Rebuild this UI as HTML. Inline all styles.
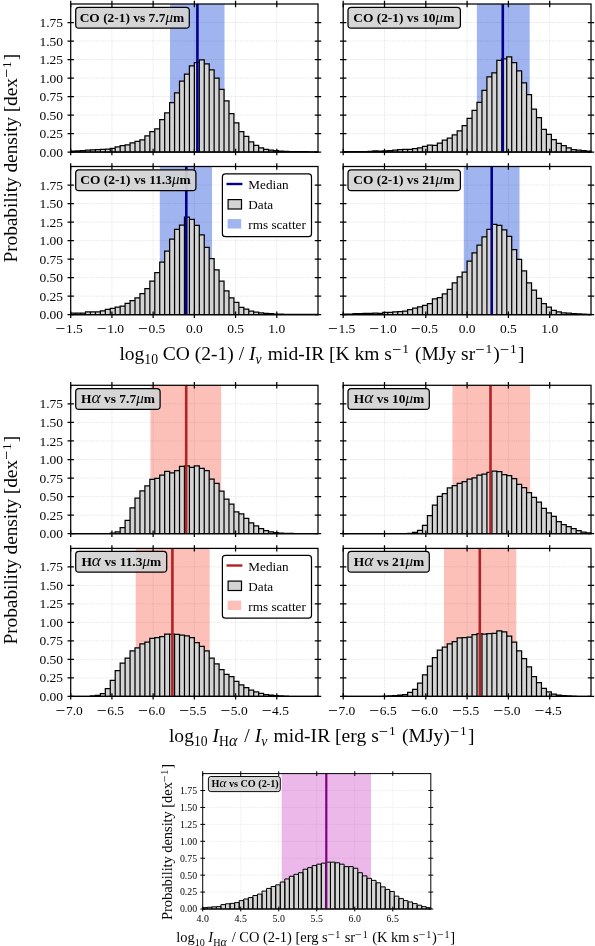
<!DOCTYPE html>
<html><head><meta charset="utf-8"><title>Histograms</title>
<style>
html,body{margin:0;padding:0;background:#fff;}
body{width:595px;height:946px;overflow:hidden;}
svg{display:block;font-family:"Liberation Serif",serif;fill:#000;}
svg text{fill:#000;stroke:none;}
</style></head><body>
<svg width="595" height="946" viewBox="0 0 595 946">
<rect width="595" height="946" fill="#fff"/>
<g><rect x="170" y="4" width="54.5" height="148" fill="rgb(160,180,240)"/><path d="M111.92 4V152M153.13 4V152M194.35 4V152M235.57 4V152M276.78 4V152M70.7 133.5H318M70.7 115H318M70.7 96.5H318M70.7 78H318M70.7 59.5H318M70.7 41H318M70.7 22.5H318" stroke="#000" stroke-opacity="0.2" stroke-width="0.5" stroke-dasharray="1 0.8" fill="none"/><path d="M70.7 152V151.11H75.65V152ZM75.65 152V150.89H80.59V152ZM80.59 152V150.52H85.54V152ZM85.54 152V150H90.48V152ZM90.48 152V149.78H95.43V152ZM95.43 152V149.56H100.38V152ZM100.38 152V149.41H105.32V152ZM105.32 152V149.04H110.27V152ZM110.27 152V148.3H115.21V152ZM115.21 152V146.82H120.16V152ZM120.16 152V145.71H125.11V152ZM125.11 152V144.82H130.05V152ZM130.05 152V142.82H135V152ZM135 152V141.27H139.94V152ZM139.94 152V139.79H144.89V152ZM144.89 152V135.87H149.84V152ZM149.84 152V131.5H154.78V152ZM154.78 152V128.84H159.73V152ZM159.73 152V119.66H164.67V152ZM164.67 152V112.93H169.62V152ZM169.62 152V102.64H174.57V152ZM174.57 152V92.8H179.51V152ZM179.51 152V81.18H184.46V152ZM184.46 152V74H189.4V152ZM189.4 152V65.94H194.35V152ZM194.35 152V62.68H199.3V152ZM199.3 152V59.8H204.24V152ZM204.24 152V63.94H209.19V152ZM209.19 152V69.86H214.13V152ZM214.13 152V78H219.08V152ZM219.08 152V89.32H224.03V152ZM224.03 152V100.94H228.97V152ZM228.97 152V113.52H233.92V152ZM233.92 152V122.77H238.86V152ZM238.86 152V131.5H243.81V152ZM243.81 152V136.46H248.76V152ZM248.76 152V141.94H253.7V152ZM253.7 152V145.34H258.65V152ZM258.65 152V147.86H263.59V152ZM263.59 152V149.41H268.54V152ZM268.54 152V150.22H273.49V152ZM273.49 152V150.67H278.43V152ZM278.43 152V151.11H283.38V152ZM283.38 152V151.33H288.32V152ZM288.32 152V151.56H293.27V152ZM293.27 152V151.63H298.22V152ZM298.22 152V151.7H303.16V152ZM303.16 152V151.7H308.11V152ZM308.11 152V151.78H313.05V152ZM313.05 152V151.78H318V152Z" fill="#d3d3d3" stroke="#000" stroke-width="1.25" stroke-linejoin="miter"/><path d="M197.4 4V152" stroke="#00008b" stroke-width="2.6"/><path d="M70.7 0.8V7.2M70.7 148.8V155.2M111.92 0.8V7.2M111.92 148.8V155.2M153.13 0.8V7.2M153.13 148.8V155.2M194.35 0.8V7.2M194.35 148.8V155.2M235.57 0.8V7.2M235.57 148.8V155.2M276.78 0.8V7.2M276.78 148.8V155.2M67.5 152H73.9M314.8 152H321.2M67.5 133.5H73.9M314.8 133.5H321.2M67.5 115H73.9M314.8 115H321.2M67.5 96.5H73.9M314.8 96.5H321.2M67.5 78H73.9M314.8 78H321.2M67.5 59.5H73.9M314.8 59.5H321.2M67.5 41H73.9M314.8 41H321.2M67.5 22.5H73.9M314.8 22.5H321.2" stroke="#000" stroke-width="1.25" fill="none"/><rect x="70.7" y="4" width="247.3" height="148" fill="none" stroke="#000" stroke-width="1.25"/></g>
<g><rect x="476.9" y="4" width="52.8" height="148" fill="rgb(160,180,240)"/><path d="M384.5 4V152M425.8 4V152M467.1 4V152M508.4 4V152M549.7 4V152M343.2 133.5H591M343.2 115H591M343.2 96.5H591M343.2 78H591M343.2 59.5H591M343.2 41H591M343.2 22.5H591" stroke="#000" stroke-opacity="0.2" stroke-width="0.5" stroke-dasharray="1 0.8" fill="none"/><path d="M343.2 152V151.7H348.16V152ZM348.16 152V151.7H353.11V152ZM353.11 152V151.7H358.07V152ZM358.07 152V151.63H363.02V152ZM363.02 152V151.56H367.98V152ZM367.98 152V151.26H372.94V152ZM372.94 152V150.89H377.89V152ZM377.89 152V151.04H382.85V152ZM382.85 152V150.82H387.8V152ZM387.8 152V150.52H392.76V152ZM392.76 152V150.08H397.72V152ZM397.72 152V149.63H402.67V152ZM402.67 152V149.41H407.63V152ZM407.63 152V149.34H412.58V152ZM412.58 152V148.74H417.54V152ZM417.54 152V147.86H422.5V152ZM422.5 152V146.3H427.45V152ZM427.45 152V145.04H432.41V152ZM432.41 152V145.34H437.36V152ZM437.36 152V143.12H442.32V152ZM442.32 152V140.16H447.28V152ZM447.28 152V138.24H452.23V152ZM452.23 152V134.76H457.19V152ZM457.19 152V130.84H462.14V152ZM462.14 152V125.58H467.1V152ZM467.1 152V118.33H472.06V152ZM472.06 152V110.26H477.01V152ZM477.01 152V102.42H481.97V152ZM481.97 152V90.36H486.92V152ZM486.92 152V76.82H491.88V152ZM491.88 152V72.89H496.84V152ZM496.84 152V60.46H501.79V152ZM501.79 152V58.76H506.75V152ZM506.75 152V56.76H511.7V152ZM511.7 152V62.61H516.66V152ZM516.66 152V70.97H521.62V152ZM521.62 152V82.96H526.57V152ZM526.57 152V94.72H531.53V152ZM531.53 152V109.15H536.48V152ZM536.48 152V117.66H541.44V152ZM541.44 152V129.28H546.4V152ZM546.4 152V134.31H551.35V152ZM551.35 152V139.57H556.31V152ZM556.31 152V143.49H561.26V152ZM561.26 152V145.64H566.22V152ZM566.22 152V147.86H571.18V152ZM571.18 152V149.63H576.13V152ZM576.13 152V150.22H581.09V152ZM581.09 152V150.67H586.04V152ZM586.04 152V151.11H591V152Z" fill="#d3d3d3" stroke="#000" stroke-width="1.25" stroke-linejoin="miter"/><path d="M502.8 4V152" stroke="#00008b" stroke-width="2.6"/><path d="M343.2 0.8V7.2M343.2 148.8V155.2M384.5 0.8V7.2M384.5 148.8V155.2M425.8 0.8V7.2M425.8 148.8V155.2M467.1 0.8V7.2M467.1 148.8V155.2M508.4 0.8V7.2M508.4 148.8V155.2M549.7 0.8V7.2M549.7 148.8V155.2M340 152H346.4M587.8 152H594.2M340 133.5H346.4M587.8 133.5H594.2M340 115H346.4M587.8 115H594.2M340 96.5H346.4M587.8 96.5H594.2M340 78H346.4M587.8 78H594.2M340 59.5H346.4M587.8 59.5H594.2M340 41H346.4M587.8 41H594.2M340 22.5H346.4M587.8 22.5H594.2" stroke="#000" stroke-width="1.25" fill="none"/><rect x="343.2" y="4" width="247.8" height="148" fill="none" stroke="#000" stroke-width="1.25"/></g>
<g><rect x="159.8" y="166.5" width="52.2" height="148.2" fill="rgb(160,180,240)"/><path d="M111.92 166.5V314.7M153.13 166.5V314.7M194.35 166.5V314.7M235.57 166.5V314.7M276.78 166.5V314.7M70.7 296.18H318M70.7 277.65H318M70.7 259.12H318M70.7 240.6H318M70.7 222.07H318M70.7 203.55H318M70.7 185.03H318" stroke="#000" stroke-opacity="0.2" stroke-width="0.5" stroke-dasharray="1 0.8" fill="none"/><path d="M70.7 314.7V313H75.65V314.7ZM75.65 314.7V313H80.59V314.7ZM80.59 314.7V313H85.54V314.7ZM85.54 314.7V311.96H90.48V314.7ZM90.48 314.7V311.96H95.43V314.7ZM95.43 314.7V311.96H100.38V314.7ZM100.38 314.7V310.85H105.32V314.7ZM105.32 314.7V309.29H110.27V314.7ZM110.27 314.7V308.4H115.21V314.7ZM115.21 314.7V307.14H120.16V314.7ZM120.16 314.7V306.03H125.11V314.7ZM125.11 314.7V303.36H130.05V314.7ZM130.05 314.7V300.55H135V314.7ZM135 314.7V297.95H139.94V314.7ZM139.94 314.7V293.58H144.89V314.7ZM144.89 314.7V288.54H149.84V314.7ZM149.84 314.7V281.06H154.78V314.7ZM154.78 314.7V272.54H159.73V314.7ZM159.73 314.7V262.24H164.67V314.7ZM164.67 314.7V251.12H169.62V314.7ZM169.62 314.7V239.12H174.57V314.7ZM174.57 314.7V229.34H179.51V314.7ZM179.51 314.7V225.19H184.46V314.7ZM184.46 314.7V217.04H189.4V314.7ZM189.4 314.7V219.41H194.35V314.7ZM194.35 314.7V225.34H199.3V314.7ZM199.3 314.7V234.75H204.24V314.7ZM204.24 314.7V247.27H209.19V314.7ZM209.19 314.7V258.61H214.13V314.7ZM214.13 314.7V269.8H219.08V314.7ZM219.08 314.7V281.13H224.03V314.7ZM224.03 314.7V290.99H228.97V314.7ZM228.97 314.7V297.95H233.92V314.7ZM233.92 314.7V302.33H238.86V314.7ZM238.86 314.7V307.36H243.81V314.7ZM243.81 314.7V309.14H248.76V314.7ZM248.76 314.7V311.14H253.7V314.7ZM253.7 314.7V312.18H258.65V314.7ZM258.65 314.7V312.85H263.59V314.7ZM263.59 314.7V313.29H268.54V314.7ZM268.54 314.7V313.74H273.49V314.7ZM273.49 314.7V314.03H278.43V314.7ZM278.43 314.7V314.18H283.38V314.7ZM283.38 314.7V314.26H288.32V314.7ZM288.32 314.7V314.33H293.27V314.7ZM293.27 314.7V314.4H298.22V314.7ZM298.22 314.7V314.4H303.16V314.7ZM303.16 314.7V314.48H308.11V314.7ZM308.11 314.7V314.48H313.05V314.7ZM313.05 314.7V314.48H318V314.7Z" fill="#d3d3d3" stroke="#000" stroke-width="1.25" stroke-linejoin="miter"/><path d="M186.3 166.5V314.7" stroke="#00008b" stroke-width="2.6"/><path d="M70.7 163.3V169.7M70.7 311.5V317.9M111.92 163.3V169.7M111.92 311.5V317.9M153.13 163.3V169.7M153.13 311.5V317.9M194.35 163.3V169.7M194.35 311.5V317.9M235.57 163.3V169.7M235.57 311.5V317.9M276.78 163.3V169.7M276.78 311.5V317.9M67.5 314.7H73.9M314.8 314.7H321.2M67.5 296.18H73.9M314.8 296.18H321.2M67.5 277.65H73.9M314.8 277.65H321.2M67.5 259.12H73.9M314.8 259.12H321.2M67.5 240.6H73.9M314.8 240.6H321.2M67.5 222.07H73.9M314.8 222.07H321.2M67.5 203.55H73.9M314.8 203.55H321.2M67.5 185.03H73.9M314.8 185.03H321.2" stroke="#000" stroke-width="1.25" fill="none"/><rect x="70.7" y="166.5" width="247.3" height="148.2" fill="none" stroke="#000" stroke-width="1.25"/></g>
<g><rect x="463.8" y="166.5" width="55.7" height="148.2" fill="rgb(160,180,240)"/><path d="M384.5 166.5V314.7M425.8 166.5V314.7M467.1 166.5V314.7M508.4 166.5V314.7M549.7 166.5V314.7M343.2 296.18H591M343.2 277.65H591M343.2 259.12H591M343.2 240.6H591M343.2 222.07H591M343.2 203.55H591M343.2 185.03H591" stroke="#000" stroke-opacity="0.2" stroke-width="0.5" stroke-dasharray="1 0.8" fill="none"/><path d="M343.2 314.7V314.11H348.16V314.7ZM348.16 314.7V314.11H353.11V314.7ZM353.11 314.7V313.66H358.07V314.7ZM358.07 314.7V313.66H363.02V314.7ZM363.02 314.7V313.44H367.98V314.7ZM367.98 314.7V313.44H372.94V314.7ZM372.94 314.7V313H377.89V314.7ZM377.89 314.7V313.44H382.85V314.7ZM382.85 314.7V312.33H387.8V314.7ZM387.8 314.7V312.33H392.76V314.7ZM392.76 314.7V311.96H397.72V314.7ZM397.72 314.7V311.51H402.67V314.7ZM402.67 314.7V311.07H407.63V314.7ZM407.63 314.7V309.74H412.58V314.7ZM412.58 314.7V308.03H417.54V314.7ZM417.54 314.7V306.92H422.5V314.7ZM422.5 314.7V305.36H427.45V314.7ZM427.45 314.7V303.58H432.41V314.7ZM432.41 314.7V298.77H437.36V314.7ZM437.36 314.7V297.73H442.32V314.7ZM442.32 314.7V293.95H447.28V314.7ZM447.28 314.7V289.36H452.23V314.7ZM452.23 314.7V282.84H457.19V314.7ZM457.19 314.7V276.91H462.14V314.7ZM462.14 314.7V272.09H467.1V314.7ZM467.1 314.7V261.2H472.06V314.7ZM472.06 314.7V252.83H477.01V314.7ZM477.01 314.7V245.19H481.97V314.7ZM481.97 314.7V236.89H486.92V314.7ZM486.92 314.7V229.26H491.88V314.7ZM491.88 314.7V224.45H496.84V314.7ZM496.84 314.7V225.48H501.79V314.7ZM501.79 314.7V229.86H506.75V314.7ZM506.75 314.7V236.45H511.7V314.7ZM511.7 314.7V249.57H516.66V314.7ZM516.66 314.7V259.42H521.62V314.7ZM521.62 314.7V270.98H526.57V314.7ZM526.57 314.7V282.84H531.53V314.7ZM531.53 314.7V290.02H536.48V314.7ZM536.48 314.7V298.4H541.44V314.7ZM541.44 314.7V303.58H546.4V314.7ZM546.4 314.7V307.14H551.35V314.7ZM551.35 314.7V310.4H556.31V314.7ZM556.31 314.7V311.96H561.26V314.7ZM561.26 314.7V312.77H566.22V314.7ZM566.22 314.7V313.22H571.18V314.7ZM571.18 314.7V313.66H576.13V314.7ZM576.13 314.7V313.96H581.09V314.7ZM581.09 314.7V314.11H586.04V314.7ZM586.04 314.7V314.26H591V314.7Z" fill="#d3d3d3" stroke="#000" stroke-width="1.25" stroke-linejoin="miter"/><path d="M491.7 166.5V314.7" stroke="#00008b" stroke-width="2.6"/><path d="M343.2 163.3V169.7M343.2 311.5V317.9M384.5 163.3V169.7M384.5 311.5V317.9M425.8 163.3V169.7M425.8 311.5V317.9M467.1 163.3V169.7M467.1 311.5V317.9M508.4 163.3V169.7M508.4 311.5V317.9M549.7 163.3V169.7M549.7 311.5V317.9M340 314.7H346.4M587.8 314.7H594.2M340 296.18H346.4M587.8 296.18H594.2M340 277.65H346.4M587.8 277.65H594.2M340 259.12H346.4M587.8 259.12H594.2M340 240.6H346.4M587.8 240.6H594.2M340 222.07H346.4M587.8 222.07H594.2M340 203.55H346.4M587.8 203.55H594.2M340 185.03H346.4M587.8 185.03H594.2" stroke="#000" stroke-width="1.25" fill="none"/><rect x="343.2" y="166.5" width="247.8" height="148.2" fill="none" stroke="#000" stroke-width="1.25"/></g>
<g><rect x="150.4" y="385.3" width="70.8" height="148.4" fill="rgb(252,192,185)"/><path d="M111.92 385.3V533.7M153.13 385.3V533.7M194.35 385.3V533.7M235.57 385.3V533.7M276.78 385.3V533.7M70.7 515.15H318M70.7 496.6H318M70.7 478.05H318M70.7 459.5H318M70.7 440.95H318M70.7 422.4H318M70.7 403.85H318" stroke="#000" stroke-opacity="0.2" stroke-width="0.5" stroke-dasharray="1 0.8" fill="none"/><path d="M70.7 533.7V533.7H75.65V533.7ZM75.65 533.7V533.7H80.59V533.7ZM80.59 533.7V533.7H85.54V533.7ZM85.54 533.7V533.7H90.48V533.7ZM90.48 533.7V533.7H95.43V533.7ZM95.43 533.7V533.7H100.38V533.7ZM100.38 533.7V533.7H105.32V533.7ZM105.32 533.7V533.55H110.27V533.7ZM110.27 533.7V533.11H115.21V533.7ZM115.21 533.7V531.99H120.16V533.7ZM120.16 533.7V527.62H125.11V533.7ZM125.11 533.7V520.42H130.05V533.7ZM130.05 533.7V507.95H135V533.7ZM135 533.7V498.08H139.94V533.7ZM139.94 533.7V490.81H144.89V533.7ZM144.89 533.7V485.99H149.84V533.7ZM149.84 533.7V479.46H154.78V533.7ZM154.78 533.7V478.35H159.73V533.7ZM159.73 533.7V475.08H164.67V533.7ZM164.67 533.7V471.37H169.62V533.7ZM169.62 533.7V472.86H174.57V533.7ZM174.57 533.7V470.63H179.51V533.7ZM179.51 533.7V466.33H184.46V533.7ZM184.46 533.7V465.88H189.4V533.7ZM189.4 533.7V467.37H194.35V533.7ZM194.35 533.7V465.88H199.3V533.7ZM199.3 533.7V468.48H204.24V533.7ZM204.24 533.7V470.63H209.19V533.7ZM209.19 533.7V479.01H214.13V533.7ZM214.13 533.7V483.39H219.08V533.7ZM219.08 533.7V491.04H224.03V533.7ZM224.03 533.7V499.12H228.97V533.7ZM228.97 533.7V504.02H233.92V533.7ZM233.92 533.7V511.89H238.86V533.7ZM238.86 533.7V513.81H243.81V533.7ZM243.81 533.7V518.41H248.76V533.7ZM248.76 533.7V522.79H253.7V533.7ZM253.7 533.7V525.91H258.65V533.7ZM258.65 533.7V528.73H263.59V533.7ZM263.59 533.7V530.51H268.54V533.7ZM268.54 533.7V531.77H273.49V533.7ZM273.49 533.7V532.66H278.43V533.7ZM278.43 533.7V533.11H283.38V533.7ZM283.38 533.7V533.33H288.32V533.7ZM288.32 533.7V533.4H293.27V533.7ZM293.27 533.7V533.55H298.22V533.7ZM298.22 533.7V533.7H303.16V533.7ZM303.16 533.7V533.7H308.11V533.7ZM308.11 533.7V533.7H313.05V533.7ZM313.05 533.7V533.7H318V533.7Z" fill="#d3d3d3" stroke="#000" stroke-width="1.25" stroke-linejoin="miter"/><path d="M186.2 385.3V533.7" stroke="#b22222" stroke-width="2.6"/><path d="M70.7 382.1V388.5M70.7 530.5V536.9M111.92 382.1V388.5M111.92 530.5V536.9M153.13 382.1V388.5M153.13 530.5V536.9M194.35 382.1V388.5M194.35 530.5V536.9M235.57 382.1V388.5M235.57 530.5V536.9M276.78 382.1V388.5M276.78 530.5V536.9M67.5 533.7H73.9M314.8 533.7H321.2M67.5 515.15H73.9M314.8 515.15H321.2M67.5 496.6H73.9M314.8 496.6H321.2M67.5 478.05H73.9M314.8 478.05H321.2M67.5 459.5H73.9M314.8 459.5H321.2M67.5 440.95H73.9M314.8 440.95H321.2M67.5 422.4H73.9M314.8 422.4H321.2M67.5 403.85H73.9M314.8 403.85H321.2" stroke="#000" stroke-width="1.25" fill="none"/><rect x="70.7" y="385.3" width="247.3" height="148.4" fill="none" stroke="#000" stroke-width="1.25"/></g>
<g><rect x="452.4" y="385.3" width="77.7" height="148.4" fill="rgb(252,192,185)"/><path d="M384.5 385.3V533.7M425.8 385.3V533.7M467.1 385.3V533.7M508.4 385.3V533.7M549.7 385.3V533.7M343.2 515.15H591M343.2 496.6H591M343.2 478.05H591M343.2 459.5H591M343.2 440.95H591M343.2 422.4H591M343.2 403.85H591" stroke="#000" stroke-opacity="0.2" stroke-width="0.5" stroke-dasharray="1 0.8" fill="none"/><path d="M343.2 533.7V533.7H348.16V533.7ZM348.16 533.7V533.7H353.11V533.7ZM353.11 533.7V533.7H358.07V533.7ZM358.07 533.7V533.7H363.02V533.7ZM363.02 533.7V533.7H367.98V533.7ZM367.98 533.7V533.7H372.94V533.7ZM372.94 533.7V533.7H377.89V533.7ZM377.89 533.7V533.7H382.85V533.7ZM382.85 533.7V533.7H387.8V533.7ZM387.8 533.7V533.7H392.76V533.7ZM392.76 533.7V533.7H397.72V533.7ZM397.72 533.7V533.7H402.67V533.7ZM402.67 533.7V533.55H407.63V533.7ZM407.63 533.7V533.33H412.58V533.7ZM412.58 533.7V532.44H417.54V533.7ZM417.54 533.7V530.29H422.5V533.7ZM422.5 533.7V525.46H427.45V533.7ZM427.45 533.7V515.6H432.41V533.7ZM432.41 533.7V505.06H437.36V533.7ZM437.36 533.7V496.3H442.32V533.7ZM442.32 533.7V493.71H447.28V533.7ZM447.28 533.7V487.77H452.23V533.7ZM452.23 533.7V485.54H457.19V533.7ZM457.19 533.7V483.39H462.14V533.7ZM462.14 533.7V481.61H467.1V533.7ZM467.1 533.7V479.24H472.06V533.7ZM472.06 533.7V477.83H477.01V533.7ZM477.01 533.7V475.08H481.97V533.7ZM481.97 533.7V474.12H486.92V533.7ZM486.92 533.7V472.41H491.88V533.7ZM491.88 533.7V471.08H496.84V533.7ZM496.84 533.7V471.74H501.79V533.7ZM501.79 533.7V474.64H506.75V533.7ZM506.75 533.7V475.68H511.7V533.7ZM511.7 533.7V478.57H516.66V533.7ZM516.66 533.7V484.36H521.62V533.7ZM521.62 533.7V487.7H526.57V533.7ZM526.57 533.7V492.59H531.53V533.7ZM531.53 533.7V497.42H536.48V533.7ZM536.48 533.7V502.02H541.44V533.7ZM541.44 533.7V508.32H546.4V533.7ZM546.4 533.7V512.92H551.35V533.7ZM551.35 533.7V516.26H556.31V533.7ZM556.31 533.7V521.53H561.26V533.7ZM561.26 533.7V524.57H566.22V533.7ZM566.22 533.7V526.73H571.18V533.7ZM571.18 533.7V528.73H576.13V533.7ZM576.13 533.7V530.51H581.09V533.7ZM581.09 533.7V532.22H586.04V533.7ZM586.04 533.7V532.88H591V533.7Z" fill="#d3d3d3" stroke="#000" stroke-width="1.25" stroke-linejoin="miter"/><path d="M490.5 385.3V533.7" stroke="#b22222" stroke-width="2.6"/><path d="M343.2 382.1V388.5M343.2 530.5V536.9M384.5 382.1V388.5M384.5 530.5V536.9M425.8 382.1V388.5M425.8 530.5V536.9M467.1 382.1V388.5M467.1 530.5V536.9M508.4 382.1V388.5M508.4 530.5V536.9M549.7 382.1V388.5M549.7 530.5V536.9M340 533.7H346.4M587.8 533.7H594.2M340 515.15H346.4M587.8 515.15H594.2M340 496.6H346.4M587.8 496.6H594.2M340 478.05H346.4M587.8 478.05H594.2M340 459.5H346.4M587.8 459.5H594.2M340 440.95H346.4M587.8 440.95H594.2M340 422.4H346.4M587.8 422.4H594.2M340 403.85H346.4M587.8 403.85H594.2" stroke="#000" stroke-width="1.25" fill="none"/><rect x="343.2" y="385.3" width="247.8" height="148.4" fill="none" stroke="#000" stroke-width="1.25"/></g>
<g><rect x="135.7" y="548.4" width="74" height="148" fill="rgb(252,192,185)"/><path d="M111.92 548.4V696.4M153.13 548.4V696.4M194.35 548.4V696.4M235.57 548.4V696.4M276.78 548.4V696.4M70.7 677.9H318M70.7 659.4H318M70.7 640.9H318M70.7 622.4H318M70.7 603.9H318M70.7 585.4H318M70.7 566.9H318" stroke="#000" stroke-opacity="0.2" stroke-width="0.5" stroke-dasharray="1 0.8" fill="none"/><path d="M70.7 696.4V696.4H75.65V696.4ZM75.65 696.4V696.4H80.59V696.4ZM80.59 696.4V696.4H85.54V696.4ZM85.54 696.4V696.25H90.48V696.4ZM90.48 696.4V695.88H95.43V696.4ZM95.43 696.4V695.44H100.38V696.4ZM100.38 696.4V693.66H105.32V696.4ZM105.32 696.4V688.63H110.27V696.4ZM110.27 696.4V680.34H115.21V696.4ZM115.21 696.4V670.72H120.16V696.4ZM120.16 696.4V663.1H125.11V696.4ZM125.11 696.4V658.07H130.05V696.4ZM130.05 696.4V650.82H135V696.4ZM135 696.4V647.78H139.94V696.4ZM139.94 696.4V643.86H144.89V696.4ZM144.89 696.4V642.08H149.84V696.4ZM149.84 696.4V638.38H154.78V696.4ZM154.78 696.4V637.72H159.73V696.4ZM159.73 696.4V636.68H164.67V696.4ZM164.67 696.4V634.02H169.62V696.4ZM169.62 696.4V634.02H174.57V696.4ZM174.57 696.4V634.46H179.51V696.4ZM179.51 696.4V635.13H184.46V696.4ZM184.46 696.4V635.79H189.4V696.4ZM189.4 696.4V637.72H194.35V696.4ZM194.35 696.4V642.53H199.3V696.4ZM199.3 696.4V646.45H204.24V696.4ZM204.24 696.4V650.82H209.19V696.4ZM209.19 696.4V658.07H214.13V696.4ZM214.13 696.4V663.99H219.08V696.4ZM219.08 696.4V669.61H224.03V696.4ZM224.03 696.4V674.42H228.97V696.4ZM228.97 696.4V676.64H233.92V696.4ZM233.92 696.4V681.45H238.86V696.4ZM238.86 696.4V684.93H243.81V696.4ZM243.81 696.4V687.52H248.76V696.4ZM248.76 696.4V690.18H253.7V696.4ZM253.7 696.4V691.96H258.65V696.4ZM258.65 696.4V693.44H263.59V696.4ZM263.59 696.4V694.55H268.54V696.4ZM268.54 696.4V695.22H273.49V696.4ZM273.49 696.4V695.66H278.43V696.4ZM278.43 696.4V695.88H283.38V696.4ZM283.38 696.4V696.1H288.32V696.4ZM288.32 696.4V696.25H293.27V696.4ZM293.27 696.4V696.4H298.22V696.4ZM298.22 696.4V696.4H303.16V696.4ZM303.16 696.4V696.4H308.11V696.4ZM308.11 696.4V696.4H313.05V696.4ZM313.05 696.4V696.4H318V696.4Z" fill="#d3d3d3" stroke="#000" stroke-width="1.25" stroke-linejoin="miter"/><path d="M172.4 548.4V696.4" stroke="#b22222" stroke-width="2.6"/><path d="M70.7 545.2V551.6M70.7 693.2V699.6M111.92 545.2V551.6M111.92 693.2V699.6M153.13 545.2V551.6M153.13 693.2V699.6M194.35 545.2V551.6M194.35 693.2V699.6M235.57 545.2V551.6M235.57 693.2V699.6M276.78 545.2V551.6M276.78 693.2V699.6M67.5 696.4H73.9M314.8 696.4H321.2M67.5 677.9H73.9M314.8 677.9H321.2M67.5 659.4H73.9M314.8 659.4H321.2M67.5 640.9H73.9M314.8 640.9H321.2M67.5 622.4H73.9M314.8 622.4H321.2M67.5 603.9H73.9M314.8 603.9H321.2M67.5 585.4H73.9M314.8 585.4H321.2M67.5 566.9H73.9M314.8 566.9H321.2" stroke="#000" stroke-width="1.25" fill="none"/><rect x="70.7" y="548.4" width="247.3" height="148" fill="none" stroke="#000" stroke-width="1.25"/></g>
<g><rect x="444" y="548.4" width="72.3" height="148" fill="rgb(252,192,185)"/><path d="M384.5 548.4V696.4M425.8 548.4V696.4M467.1 548.4V696.4M508.4 548.4V696.4M549.7 548.4V696.4M343.2 677.9H591M343.2 659.4H591M343.2 640.9H591M343.2 622.4H591M343.2 603.9H591M343.2 585.4H591M343.2 566.9H591" stroke="#000" stroke-opacity="0.2" stroke-width="0.5" stroke-dasharray="1 0.8" fill="none"/><path d="M343.2 696.4V696.4H348.16V696.4ZM348.16 696.4V696.4H353.11V696.4ZM353.11 696.4V696.4H358.07V696.4ZM358.07 696.4V696.4H363.02V696.4ZM363.02 696.4V696.4H367.98V696.4ZM367.98 696.4V696.4H372.94V696.4ZM372.94 696.4V696.33H377.89V696.4ZM377.89 696.4V696.25H382.85V696.4ZM382.85 696.4V696.1H387.8V696.4ZM387.8 696.4V695.88H392.76V696.4ZM392.76 696.4V695.66H397.72V696.4ZM397.72 696.4V695.22H402.67V696.4ZM402.67 696.4V694.55H407.63V696.4ZM407.63 696.4V692.33H412.58V696.4ZM412.58 696.4V689.3H417.54V696.4ZM417.54 696.4V683.15H422.5V696.4ZM422.5 696.4V674.87H427.45V696.4ZM427.45 696.4V666.13H432.41V696.4ZM432.41 696.4V657.62H437.36V696.4ZM437.36 696.4V650H442.32V696.4ZM442.32 696.4V647.12H447.28V696.4ZM447.28 696.4V643.86H452.23V696.4ZM452.23 696.4V641.64H457.19V696.4ZM457.19 696.4V637.94H462.14V696.4ZM462.14 696.4V637.72H467.1V696.4ZM467.1 696.4V637.05H472.06V696.4ZM472.06 696.4V634.68H477.01V696.4ZM477.01 696.4V633.5H481.97V696.4ZM481.97 696.4V634.24H486.92V696.4ZM486.92 696.4V633.65H491.88V696.4ZM491.88 696.4V633.35H496.84V696.4ZM496.84 696.4V630.76H501.79V696.4ZM501.79 696.4V631.95H506.75V696.4ZM506.75 696.4V636.09H511.7V696.4ZM511.7 696.4V642.08H516.66V696.4ZM516.66 696.4V650.82H521.62V696.4ZM521.62 696.4V658.73H526.57V696.4ZM526.57 696.4V666.8H531.53V696.4ZM531.53 696.4V676.64H536.48V696.4ZM536.48 696.4V682.71H541.44V696.4ZM541.44 696.4V688.41H546.4V696.4ZM546.4 696.4V691.96H551.35V696.4ZM551.35 696.4V694.11H556.31V696.4ZM556.31 696.4V695.22H561.26V696.4ZM561.26 696.4V695.66H566.22V696.4ZM566.22 696.4V695.96H571.18V696.4ZM571.18 696.4V696.18H576.13V696.4ZM576.13 696.4V696.33H581.09V696.4ZM581.09 696.4V696.4H586.04V696.4ZM586.04 696.4V696.4H591V696.4Z" fill="#d3d3d3" stroke="#000" stroke-width="1.25" stroke-linejoin="miter"/><path d="M479.8 548.4V696.4" stroke="#b22222" stroke-width="2.6"/><path d="M343.2 545.2V551.6M343.2 693.2V699.6M384.5 545.2V551.6M384.5 693.2V699.6M425.8 545.2V551.6M425.8 693.2V699.6M467.1 545.2V551.6M467.1 693.2V699.6M508.4 545.2V551.6M508.4 693.2V699.6M549.7 545.2V551.6M549.7 693.2V699.6M340 696.4H346.4M587.8 696.4H594.2M340 677.9H346.4M587.8 677.9H594.2M340 659.4H346.4M587.8 659.4H594.2M340 640.9H346.4M587.8 640.9H594.2M340 622.4H346.4M587.8 622.4H594.2M340 603.9H346.4M587.8 603.9H594.2M340 585.4H346.4M587.8 585.4H594.2M340 566.9H346.4M587.8 566.9H594.2" stroke="#000" stroke-width="1.25" fill="none"/><rect x="343.2" y="548.4" width="247.8" height="148" fill="none" stroke="#000" stroke-width="1.25"/></g>
<g><rect x="281.7" y="773.6" width="89.3" height="135.4" fill="rgb(236,184,234)"/><path d="M240.72 773.6V909M278.73 773.6V909M316.75 773.6V909M354.77 773.6V909M392.78 773.6V909M202.7 892.08H430.8M202.7 875.15H430.8M202.7 858.23H430.8M202.7 841.3H430.8M202.7 824.38H430.8M202.7 807.45H430.8M202.7 790.52H430.8" stroke="#000" stroke-opacity="0.2" stroke-width="0.4" stroke-dasharray="0.8 0.7" fill="none"/><path d="M202.7 909V907.65H207.26V909ZM207.26 909V907.24H211.82V909ZM211.82 909V906.83H216.39V909ZM216.39 909V906.63H220.95V909ZM220.95 909V904.6H225.51V909ZM225.51 909V903.79H230.07V909ZM230.07 909V903.38H234.63V909ZM234.63 909V902.57H239.2V909ZM239.2 909V900.61H243.76V909ZM243.76 909V898.98H248.32V909ZM248.32 909V897.56H252.88V909ZM252.88 909V895.53H257.44V909ZM257.44 909V894.11H262.01V909ZM262.01 909V891.06H266.57V909ZM266.57 909V888.42H271.13V909ZM271.13 909V886.46H275.69V909ZM275.69 909V884.83H280.25V909ZM280.25 909V881.99H284.82V909ZM284.82 909V878.94H289.38V909ZM289.38 909V876.3H293.94V909ZM293.94 909V874.34H298.5V909ZM298.5 909V872.71H303.06V909ZM303.06 909V869.26H307.63V909ZM307.63 909V867.64H312.19V909ZM312.19 909V865.6H316.75V909ZM316.75 909V864.18H321.31V909ZM321.31 909V863.17H325.87V909ZM325.87 909V862.15H330.44V909ZM330.44 909V862.15H335V909ZM335 909V862.76H339.56V909ZM339.56 909V864.18H344.12V909ZM344.12 909V866.62H348.68V909ZM348.68 909V866.62H353.25V909ZM353.25 909V868.24H357.81V909ZM357.81 909V872.71H362.37V909ZM362.37 909V875.89H366.93V909ZM366.93 909V878.33H371.49V909ZM371.49 909V880.36H376.06V909ZM376.06 909V882.8H380.62V909ZM380.62 909V886.86H385.18V909ZM385.18 909V889.43H389.74V909ZM389.74 909V891.47H394.3V909ZM394.3 909V896.14H398.87V909ZM398.87 909V898.57H403.43V909ZM403.43 909V900.61H407.99V909ZM407.99 909V901.96H412.55V909ZM412.55 909V903.58H417.11V909ZM417.11 909V905.21H421.68V909ZM421.68 909V906.63H426.24V909ZM426.24 909V907.65H430.8V909Z" fill="#d3d3d3" stroke="#000" stroke-width="1.0" stroke-linejoin="miter"/><path d="M326.3 773.6V909" stroke="#800080" stroke-width="2.2"/><path d="M202.7 771.2V776M202.7 906.6V911.4M240.72 771.2V776M240.72 906.6V911.4M278.73 771.2V776M278.73 906.6V911.4M316.75 771.2V776M316.75 906.6V911.4M354.77 771.2V776M354.77 906.6V911.4M392.78 771.2V776M392.78 906.6V911.4M200.3 909H205.1M428.4 909H433.2M200.3 892.08H205.1M428.4 892.08H433.2M200.3 875.15H205.1M428.4 875.15H433.2M200.3 858.23H205.1M428.4 858.23H433.2M200.3 841.3H205.1M428.4 841.3H433.2M200.3 824.38H205.1M428.4 824.38H433.2M200.3 807.45H205.1M428.4 807.45H433.2M200.3 790.52H205.1M428.4 790.52H433.2" stroke="#000" stroke-width="1.0" fill="none"/><rect x="202.7" y="773.6" width="228.1" height="135.4" fill="none" stroke="#000" stroke-width="1.0"/></g>
<rect x="75.7" y="7.3" width="113.6" height="20.8" rx="3.2" fill="#d3d3d3" fill-opacity="0.92" stroke="#000" stroke-width="1.25"/>
<rect x="348" y="7.3" width="112.4" height="20.8" rx="3.2" fill="#d3d3d3" fill-opacity="0.92" stroke="#000" stroke-width="1.25"/>
<rect x="75.7" y="169.8" width="120.2" height="20.8" rx="3.2" fill="#d3d3d3" fill-opacity="0.92" stroke="#000" stroke-width="1.25"/>
<rect x="348" y="169.8" width="112.4" height="20.8" rx="3.2" fill="#d3d3d3" fill-opacity="0.92" stroke="#000" stroke-width="1.25"/>
<rect x="75.7" y="388.6" width="84.4" height="20.8" rx="3.2" fill="#d3d3d3" fill-opacity="0.92" stroke="#000" stroke-width="1.25"/>
<rect x="348" y="388.6" width="81.3" height="20.8" rx="3.2" fill="#d3d3d3" fill-opacity="0.92" stroke="#000" stroke-width="1.25"/>
<rect x="75.7" y="551.3" width="91" height="20.8" rx="3.2" fill="#d3d3d3" fill-opacity="0.92" stroke="#000" stroke-width="1.25"/>
<rect x="348" y="551.3" width="81.3" height="20.8" rx="3.2" fill="#d3d3d3" fill-opacity="0.92" stroke="#000" stroke-width="1.25"/>
<rect x="208.4" y="776.5" width="71.9" height="15.1" rx="2.4" fill="#d3d3d3" fill-opacity="0.92" stroke="#000" stroke-width="0.95"/>
<rect x="222.4" y="173.9" width="89.1" height="62.8" rx="3" fill="#fff" stroke="#000" stroke-width="1.2"/>
<path d="M226.5 184H242.4" stroke="#00008b" stroke-width="2.4"/>
<rect x="228.1" y="199.6" width="13.4" height="9.4" fill="#d3d3d3" stroke="#000" stroke-width="1.2"/>
<rect x="227.6" y="219.1" width="13.6" height="9.4" fill="rgb(160,180,240)"/>
<rect x="222.4" y="555.4" width="89.1" height="62.8" rx="3" fill="#fff" stroke="#000" stroke-width="1.2"/>
<path d="M226.5 565.5H242.4" stroke="#b22222" stroke-width="2.4"/>
<rect x="228.1" y="581.1" width="13.4" height="9.4" fill="#d3d3d3" stroke="#000" stroke-width="1.2"/>
<rect x="227.6" y="600.6" width="13.6" height="9.4" fill="rgb(252,192,185)"/>
<g style="opacity:0.996">
<text x="131.9" y="21.8" font-size="13.433000000000002" font-weight="bold" text-anchor="middle">CO (2-1) vs 7.7<tspan font-style="italic" font-weight="normal" font-size="1.12em">μ</tspan>m</text>
<text x="403.75" y="21.8" font-size="13.433000000000002" font-weight="bold" text-anchor="middle">CO (2-1) vs 10<tspan font-style="italic" font-weight="normal" font-size="1.12em">μ</tspan>m</text>
<text x="135.45" y="184.3" font-size="13.433000000000002" font-weight="bold" text-anchor="middle">CO (2-1) vs 11.3<tspan font-style="italic" font-weight="normal" font-size="1.12em">μ</tspan>m</text>
<text x="403.75" y="184.3" font-size="13.433000000000002" font-weight="bold" text-anchor="middle">CO (2-1) vs 21<tspan font-style="italic" font-weight="normal" font-size="1.12em">μ</tspan>m</text>
<text x="118" y="403.1" font-size="13.433000000000002" font-weight="bold" text-anchor="middle">H<tspan font-style="italic" font-weight="normal" font-size="1.3em">α</tspan> vs 7.7<tspan font-style="italic" font-weight="normal" font-size="1.12em">μ</tspan>m</text>
<text x="388.95" y="403.1" font-size="13.433000000000002" font-weight="bold" text-anchor="middle">H<tspan font-style="italic" font-weight="normal" font-size="1.3em">α</tspan> vs 10<tspan font-style="italic" font-weight="normal" font-size="1.12em">μ</tspan>m</text>
<text x="121.3" y="565.8" font-size="13.433000000000002" font-weight="bold" text-anchor="middle">H<tspan font-style="italic" font-weight="normal" font-size="1.3em">α</tspan> vs 11.3<tspan font-style="italic" font-weight="normal" font-size="1.12em">μ</tspan>m</text>
<text x="388.95" y="565.8" font-size="13.433000000000002" font-weight="bold" text-anchor="middle">H<tspan font-style="italic" font-weight="normal" font-size="1.3em">α</tspan> vs 21<tspan font-style="italic" font-weight="normal" font-size="1.12em">μ</tspan>m</text>
<text x="245.1" y="786.7" font-size="10.201" font-weight="bold" text-anchor="middle">H<tspan font-style="italic" font-weight="normal" font-size="1.3em">α</tspan> vs CO (2-1)</text>
<text x="63" y="156.59" font-size="13.5" text-anchor="end">0.00</text>
<text x="63" y="138.09" font-size="13.5" text-anchor="end">0.25</text>
<text x="63" y="119.59" font-size="13.5" text-anchor="end">0.50</text>
<text x="63" y="101.09" font-size="13.5" text-anchor="end">0.75</text>
<text x="63" y="82.59" font-size="13.5" text-anchor="end">1.00</text>
<text x="63" y="64.09" font-size="13.5" text-anchor="end">1.25</text>
<text x="63" y="45.59" font-size="13.5" text-anchor="end">1.50</text>
<text x="63" y="27.09" font-size="13.5" text-anchor="end">1.75</text>
<text x="63" y="319.29" font-size="13.5" text-anchor="end">0.00</text>
<text x="63" y="300.76" font-size="13.5" text-anchor="end">0.25</text>
<text x="63" y="282.24" font-size="13.5" text-anchor="end">0.50</text>
<text x="63" y="263.71" font-size="13.5" text-anchor="end">0.75</text>
<text x="63" y="245.19" font-size="13.5" text-anchor="end">1.00</text>
<text x="63" y="226.66" font-size="13.5" text-anchor="end">1.25</text>
<text x="63" y="208.14" font-size="13.5" text-anchor="end">1.50</text>
<text x="63" y="189.62" font-size="13.5" text-anchor="end">1.75</text>
<text x="63" y="538.29" font-size="13.5" text-anchor="end">0.00</text>
<text x="63" y="519.74" font-size="13.5" text-anchor="end">0.25</text>
<text x="63" y="501.19" font-size="13.5" text-anchor="end">0.50</text>
<text x="63" y="482.64" font-size="13.5" text-anchor="end">0.75</text>
<text x="63" y="464.09" font-size="13.5" text-anchor="end">1.00</text>
<text x="63" y="445.54" font-size="13.5" text-anchor="end">1.25</text>
<text x="63" y="426.99" font-size="13.5" text-anchor="end">1.50</text>
<text x="63" y="408.44" font-size="13.5" text-anchor="end">1.75</text>
<text x="63" y="700.99" font-size="13.5" text-anchor="end">0.00</text>
<text x="63" y="682.49" font-size="13.5" text-anchor="end">0.25</text>
<text x="63" y="663.99" font-size="13.5" text-anchor="end">0.50</text>
<text x="63" y="645.49" font-size="13.5" text-anchor="end">0.75</text>
<text x="63" y="626.99" font-size="13.5" text-anchor="end">1.00</text>
<text x="63" y="608.49" font-size="13.5" text-anchor="end">1.25</text>
<text x="63" y="589.99" font-size="13.5" text-anchor="end">1.50</text>
<text x="63" y="571.49" font-size="13.5" text-anchor="end">1.75</text>
<text x="197.2" y="912.37" font-size="9.9" text-anchor="end">0.00</text>
<text x="197.2" y="895.44" font-size="9.9" text-anchor="end">0.25</text>
<text x="197.2" y="878.52" font-size="9.9" text-anchor="end">0.50</text>
<text x="197.2" y="861.59" font-size="9.9" text-anchor="end">0.75</text>
<text x="197.2" y="844.67" font-size="9.9" text-anchor="end">1.00</text>
<text x="197.2" y="827.74" font-size="9.9" text-anchor="end">1.25</text>
<text x="197.2" y="810.82" font-size="9.9" text-anchor="end">1.50</text>
<text x="197.2" y="793.89" font-size="9.9" text-anchor="end">1.75</text>
<text x="69.2" y="333" font-size="13.5" text-anchor="middle"><tspan font-size="17.55" dy="0.95" letter-spacing="0.5">−</tspan><tspan dy="-0.95">1.5</tspan></text>
<text x="110.42" y="333" font-size="13.5" text-anchor="middle"><tspan font-size="17.55" dy="0.95" letter-spacing="0.5">−</tspan><tspan dy="-0.95">1.0</tspan></text>
<text x="151.63" y="333" font-size="13.5" text-anchor="middle"><tspan font-size="17.55" dy="0.95" letter-spacing="0.5">−</tspan><tspan dy="-0.95">0.5</tspan></text>
<text x="194.35" y="333" font-size="13.5" text-anchor="middle">0.0</text>
<text x="235.57" y="333" font-size="13.5" text-anchor="middle">0.5</text>
<text x="276.78" y="333" font-size="13.5" text-anchor="middle">1.0</text>
<text x="341.7" y="333" font-size="13.5" text-anchor="middle"><tspan font-size="17.55" dy="0.95" letter-spacing="0.5">−</tspan><tspan dy="-0.95">1.5</tspan></text>
<text x="383" y="333" font-size="13.5" text-anchor="middle"><tspan font-size="17.55" dy="0.95" letter-spacing="0.5">−</tspan><tspan dy="-0.95">1.0</tspan></text>
<text x="424.3" y="333" font-size="13.5" text-anchor="middle"><tspan font-size="17.55" dy="0.95" letter-spacing="0.5">−</tspan><tspan dy="-0.95">0.5</tspan></text>
<text x="467.1" y="333" font-size="13.5" text-anchor="middle">0.0</text>
<text x="508.4" y="333" font-size="13.5" text-anchor="middle">0.5</text>
<text x="549.7" y="333" font-size="13.5" text-anchor="middle">1.0</text>
<text x="69.2" y="714.6" font-size="13.5" text-anchor="middle"><tspan font-size="17.55" dy="0.95" letter-spacing="0.5">−</tspan><tspan dy="-0.95">7.0</tspan></text>
<text x="110.42" y="714.6" font-size="13.5" text-anchor="middle"><tspan font-size="17.55" dy="0.95" letter-spacing="0.5">−</tspan><tspan dy="-0.95">6.5</tspan></text>
<text x="151.63" y="714.6" font-size="13.5" text-anchor="middle"><tspan font-size="17.55" dy="0.95" letter-spacing="0.5">−</tspan><tspan dy="-0.95">6.0</tspan></text>
<text x="192.85" y="714.6" font-size="13.5" text-anchor="middle"><tspan font-size="17.55" dy="0.95" letter-spacing="0.5">−</tspan><tspan dy="-0.95">5.5</tspan></text>
<text x="234.07" y="714.6" font-size="13.5" text-anchor="middle"><tspan font-size="17.55" dy="0.95" letter-spacing="0.5">−</tspan><tspan dy="-0.95">5.0</tspan></text>
<text x="275.28" y="714.6" font-size="13.5" text-anchor="middle"><tspan font-size="17.55" dy="0.95" letter-spacing="0.5">−</tspan><tspan dy="-0.95">4.5</tspan></text>
<text x="341.7" y="714.6" font-size="13.5" text-anchor="middle"><tspan font-size="17.55" dy="0.95" letter-spacing="0.5">−</tspan><tspan dy="-0.95">7.0</tspan></text>
<text x="383" y="714.6" font-size="13.5" text-anchor="middle"><tspan font-size="17.55" dy="0.95" letter-spacing="0.5">−</tspan><tspan dy="-0.95">6.5</tspan></text>
<text x="424.3" y="714.6" font-size="13.5" text-anchor="middle"><tspan font-size="17.55" dy="0.95" letter-spacing="0.5">−</tspan><tspan dy="-0.95">6.0</tspan></text>
<text x="465.6" y="714.6" font-size="13.5" text-anchor="middle"><tspan font-size="17.55" dy="0.95" letter-spacing="0.5">−</tspan><tspan dy="-0.95">5.5</tspan></text>
<text x="506.9" y="714.6" font-size="13.5" text-anchor="middle"><tspan font-size="17.55" dy="0.95" letter-spacing="0.5">−</tspan><tspan dy="-0.95">5.0</tspan></text>
<text x="548.2" y="714.6" font-size="13.5" text-anchor="middle"><tspan font-size="17.55" dy="0.95" letter-spacing="0.5">−</tspan><tspan dy="-0.95">4.5</tspan></text>
<text x="202.7" y="921.9" font-size="9.9" text-anchor="middle">4.0</text>
<text x="240.72" y="921.9" font-size="9.9" text-anchor="middle">4.5</text>
<text x="278.73" y="921.9" font-size="9.9" text-anchor="middle">5.0</text>
<text x="316.75" y="921.9" font-size="9.9" text-anchor="middle">5.5</text>
<text x="354.77" y="921.9" font-size="9.9" text-anchor="middle">6.0</text>
<text x="392.78" y="921.9" font-size="9.9" text-anchor="middle">6.5</text>
<text id="xl1" x="119.4" y="359.5" textLength="405.1" font-size="19.5">log<tspan font-size="13.65" dy="4.49" font-style="normal">10</tspan><tspan dy="-4.49">​</tspan> CO (2-1) / <tspan font-style="italic">I</tspan><tspan font-size="13.65" dy="4.49" font-style="normal"><tspan font-style="italic" letter-spacing="1.37">ν</tspan></tspan><tspan dy="-4.49">​</tspan> mid-IR [K km s<tspan font-size="16.38" dy="-4.88" letter-spacing="1">−</tspan><tspan font-size="13.45" dy="-1.56" letter-spacing="1.21">1</tspan><tspan dy="6.44">​</tspan> (MJy sr<tspan font-size="16.38" dy="-4.88" letter-spacing="1">−</tspan><tspan font-size="13.45" dy="-1.56" letter-spacing="1.21">1</tspan><tspan dy="6.44">​</tspan>)<tspan font-size="16.38" dy="-4.88" letter-spacing="1">−</tspan><tspan font-size="13.45" dy="-1.56" letter-spacing="1.21">1</tspan><tspan dy="6.44">​</tspan>]</text>
<text id="xl2" x="168.9" y="741.6" textLength="305.7" font-size="19.5">log<tspan font-size="13.65" dy="4.49" font-style="normal">10</tspan><tspan dy="-4.49">​</tspan> <tspan font-style="italic">I</tspan><tspan font-size="13.65" dy="4.49" font-style="normal">H<tspan font-style="italic" font-size="15.99" letter-spacing="1.95">α</tspan></tspan><tspan dy="-4.49">​</tspan> / <tspan font-style="italic">I</tspan><tspan font-size="13.65" dy="4.49" font-style="normal"><tspan font-style="italic" letter-spacing="1.37">ν</tspan></tspan><tspan dy="-4.49">​</tspan> mid-IR [erg s<tspan font-size="16.38" dy="-4.88" letter-spacing="1">−</tspan><tspan font-size="13.45" dy="-1.56" letter-spacing="1.21">1</tspan><tspan dy="6.44">​</tspan> (MJy)<tspan font-size="16.38" dy="-4.88" letter-spacing="1">−</tspan><tspan font-size="13.45" dy="-1.56" letter-spacing="1.21">1</tspan><tspan dy="6.44">​</tspan>]</text>
<text id="xl3" x="176.3" y="942.3" textLength="278.9" font-size="14.5">log<tspan font-size="10.15" dy="3.33" font-style="normal">10</tspan><tspan dy="-3.33">​</tspan> <tspan font-style="italic">I</tspan><tspan font-size="10.15" dy="3.33" font-style="normal">H<tspan font-style="italic" font-size="11.89" letter-spacing="1.45">α</tspan></tspan><tspan dy="-3.33">​</tspan> / CO (2-1) [erg s<tspan font-size="12.18" dy="-3.62" letter-spacing="0.74">−</tspan><tspan font-size="10" dy="-1.16" letter-spacing="0.9">1</tspan><tspan dy="4.79">​</tspan> sr<tspan font-size="12.18" dy="-3.62" letter-spacing="0.74">−</tspan><tspan font-size="10" dy="-1.16" letter-spacing="0.9">1</tspan><tspan dy="4.79">​</tspan> (K km s<tspan font-size="12.18" dy="-3.62" letter-spacing="0.74">−</tspan><tspan font-size="10" dy="-1.16" letter-spacing="0.9">1</tspan><tspan dy="4.79">​</tspan>)<tspan font-size="12.18" dy="-3.62" letter-spacing="0.74">−</tspan><tspan font-size="10" dy="-1.16" letter-spacing="0.9">1</tspan><tspan dy="4.79">​</tspan>]</text>
<text id="yl1" transform="translate(17.0 262.6) rotate(-90)" textLength="208.8" font-size="19.5">Probability density [dex<tspan font-size="16.38" dy="-4.88" letter-spacing="1">−</tspan><tspan font-size="13.45" dy="-1.56" letter-spacing="1.21">1</tspan><tspan dy="6.44">​</tspan>]</text>
<text id="yl2" transform="translate(17.0 644.5) rotate(-90)" textLength="208.8" font-size="19.5">Probability density [dex<tspan font-size="16.38" dy="-4.88" letter-spacing="1">−</tspan><tspan font-size="13.45" dy="-1.56" letter-spacing="1.21">1</tspan><tspan dy="6.44">​</tspan>]</text>
<text id="yl3" transform="translate(172.4 920.0) rotate(-90)" textLength="156" font-size="14.5">Probability density [dex<tspan font-size="12.18" dy="-3.62" letter-spacing="0.74">−</tspan><tspan font-size="10" dy="-1.16" letter-spacing="0.9">1</tspan><tspan dy="4.79">​</tspan>]</text>
<text x="248.3" y="189.4" font-size="13.2">Median</text>
<text x="248.3" y="209.3" font-size="13.2">Data</text>
<text x="248.3" y="229.1" font-size="13.2">rms scatter</text>
<text x="248.3" y="570.9" font-size="13.2">Median</text>
<text x="248.3" y="590.8" font-size="13.2">Data</text>
<text x="248.3" y="610.6" font-size="13.2">rms scatter</text>
</g>
</svg>
</body></html>
